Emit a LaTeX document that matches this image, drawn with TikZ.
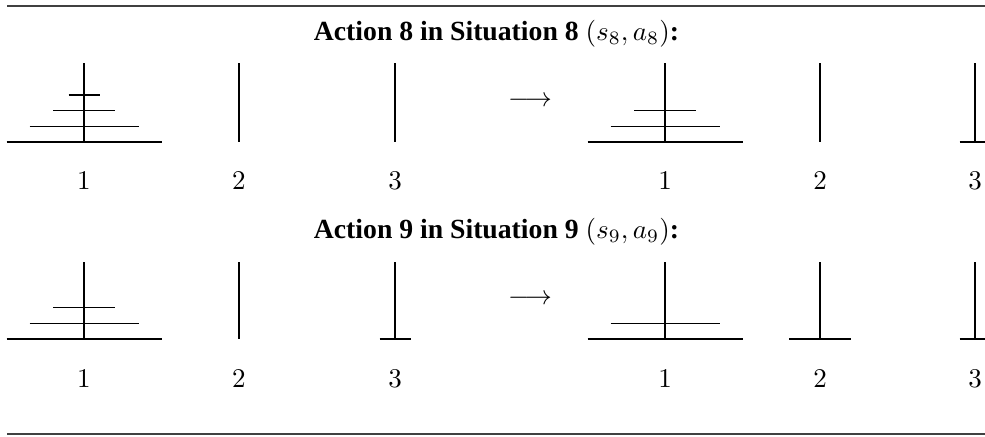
\documentclass[tikz,border=0pt]{standalone}
\usepackage[no-math]{fontspec}
\setmainfont{Liberation Serif}
\begin{document}
\begin{tikzpicture}[x=0.37pt,y=-0.37pt,
  rod/.style={line width=0.55pt},
  disc/.style={line width=0.55pt},
  rulel/.style={line width=0.8pt,black!75},
  lbl/.style={anchor=base,inner sep=0pt,font=\fontsize{10.3}{12}\selectfont},
  ttl/.style={anchor=base,inner sep=0pt,font=\fontsize{10.25}{12}\selectfont},
  arr/.style={inner sep=0pt,font=\fontsize{10}{12}\selectfont}]
\useasboundingbox (0,0) rectangle (985,436);
% rules
\coordinate (tl) at (7,6); \coordinate (tr) at (990,6);
\coordinate (bl) at (7,434); \coordinate (br) at (990,434);
\draw[rulel] (tl) -- (tr);
\draw[rulel] (bl) -- (br);
% titles
\node[ttl] (t1) at (496.5,40) {\textbf{Action 8 in Situation 8 }$(s_8, a_8)$\textbf{:}};
\node[ttl] (t2) at (496.5,238) {\textbf{Action 9 in Situation 9 }$(s_9, a_9)$\textbf{:}};
% arrows
\node[arr] (a1) at (530,102) {$\longrightarrow$};
\node[arr] (a2) at (530,300) {$\longrightarrow$};
% pegs
\def\rodtopA{63}\def\baseA{142}
\def\rodtopB{262}\def\baseB{339}
\foreach \x/\n in {84/1,239/2,395/3,665/1,820/2,975/3}{
  \draw[rod] (\x,\rodtopA) -- (\x,\baseA);
  \node[lbl] (lA\x) at (\x,189) {$\n$};
  \draw[rod] (\x,\rodtopB) -- (\x,\baseB);
  \node[lbl] (lB\x) at (\x,387) {$\n$};
}
% disc half widths: 77.5, 54.5, 31, 15.5; level spacing 15.7
% Row 1 left: peg1 has 4 discs
\foreach \h/\k in {77.5/0,54.5/1,31/2,15.5/3}{
  \draw[disc] ({84-\h},{\baseA-15.7*\k}) -- ({84+\h},{\baseA-15.7*\k});
}
% Row 1 right: peg1 three discs, peg3 smallest
\foreach \h/\k in {77.5/0,54.5/1,31/2}{
  \draw[disc] ({665-\h},{\baseA-15.7*\k}) -- ({665+\h},{\baseA-15.7*\k});
}
\draw[disc] ({975-15.5},\baseA) -- ({975+15.5},\baseA);
% Row 2 left: peg1 three discs, peg3 smallest
\foreach \h/\k in {77.5/0,54.5/1,31/2}{
  \draw[disc] ({84-\h},{\baseB-15.7*\k}) -- ({84+\h},{\baseB-15.7*\k});
}
\draw[disc] ({395-15.5},\baseB) -- ({395+15.5},\baseB);
% Row 2 right: peg1 two discs, peg2 middle, peg3 smallest
\foreach \h/\k in {77.5/0,54.5/1}{
  \draw[disc] ({665-\h},{\baseB-15.7*\k}) -- ({665+\h},{\baseB-15.7*\k});
}
\draw[disc] ({820-31},\baseB) -- ({820+31},\baseB);
\draw[disc] ({975-15.5},\baseB) -- ({975+15.5},\baseB);
\end{tikzpicture}
\end{document}
